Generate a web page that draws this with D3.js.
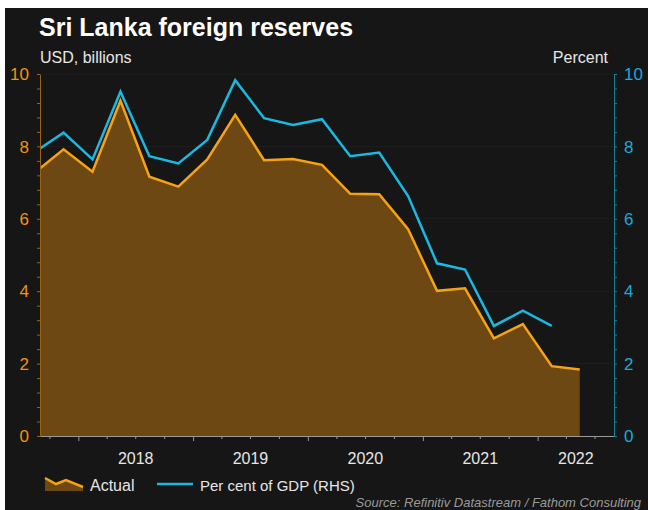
<!DOCTYPE html>
<html>
<head>
<meta charset="utf-8">
<script src="https://cdn.jsdelivr.net/npm/d3@7"></script>
<style>
  body { margin: 0; background: #fff; }
  text { font-family: "Liberation Sans", Arial, sans-serif; }
</style>
</head>
<body>
<script>
// quarterly observations (mid-quarter), first one falls just left of the plot
const dates = ["2017-08-15", "2017-11-15", "2018-02-15", "2018-05-15", "2018-08-15", "2018-11-15",
  "2019-02-15", "2019-05-15", "2019-08-15", "2019-11-15", "2020-02-15", "2020-05-15",
  "2020-08-15", "2020-11-15", "2021-02-15", "2021-05-15", "2021-08-15", "2021-11-15",
  "2022-02-15", "2022-05-15"];
const actual = [7.27, 7.92, 7.30, 9.26, 7.16, 6.89, 7.64, 8.87, 7.62, 7.65, 7.49, 6.69,
  6.68, 5.71, 4.01, 4.08, 2.70, 3.09, 1.93, 1.84];
const pctGdp = [7.84, 8.38, 7.64, 9.51, 7.73, 7.53, 8.18, 9.83, 8.78, 8.59, 8.75, 7.73,
  7.83, 6.63, 4.77, 4.60, 3.04, 3.46, 3.04, null];
const yTicks = [0, 2, 4, 6, 8, 10];
const years = [2018, 2019, 2020, 2021, 2022];

const w = 648, h = 510;
const margin = {top: 74, right: 34, bottom: 74, left: 40};
const orange = "#f5a315", fill = "#6d4813", blue = "#1bb8e0";

const parseDate = d3.timeParse("%Y-%m-%d");
const rows = dates.map((d, i) => ({date: parseDate(d), actual: actual[i], gdp: pctGdp[i]}));

const svg = d3.select("body").append("svg")
  .attr("width", w).attr("height", h);

svg.append("rect").attr("x", 5).attr("y", 8).attr("width", w - 5).attr("height", h - 8)
  .attr("fill", "#161616");

const x = d3.scaleTime()
  .domain([new Date(2017, 8, 1), new Date(2022, 8, 1)])
  .range([margin.left, w - margin.right]);
const yL = d3.scaleLinear().domain([0, 10]).range([h - margin.bottom, margin.top]);
const yR = d3.scaleLinear().domain([0, 10]).range([h - margin.bottom, margin.top]);

// faint grid
svg.append("g").selectAll("line").data(yTicks.slice(1)).enter().append("line")
  .attr("x1", margin.left).attr("x2", w - margin.right)
  .attr("y1", d => yL(d)).attr("y2", d => yL(d))
  .attr("stroke", "#ffffff").attr("stroke-opacity", 0.035);

svg.append("clipPath").attr("id", "plot")
  .append("rect")
  .attr("x", margin.left).attr("y", 0)
  .attr("width", w - margin.left - margin.right).attr("height", yL(0));

const plot = svg.append("g").attr("clip-path", "url(#plot)");

const area = d3.area().x(d => x(d.date)).y0(yL(0)).y1(d => yL(d.actual));
const lineA = d3.line().x(d => x(d.date)).y(d => yL(d.actual));
const lineG = d3.line().defined(d => d.gdp != null).x(d => x(d.date)).y(d => yR(d.gdp));

plot.append("path").datum(rows).attr("d", area).attr("fill", fill);
plot.append("path").datum(rows).attr("d", lineA)
  .attr("fill", "none").attr("stroke", orange).attr("stroke-width", 2.5);
plot.append("path").datum(rows).attr("d", lineG)
  .attr("fill", "none").attr("stroke", blue).attr("stroke-width", 2.5);

// x axis: quarterly ticks, longer at year start
const xAxis = d3.axisBottom(x).ticks(d3.timeMonth.every(3)).tickSizeInner(3).tickSizeOuter(0).tickFormat("");
const gx = svg.append("g").attr("transform", `translate(0,${yL(0)})`).call(xAxis);
gx.select(".domain").attr("stroke", "#9a9a9a").attr("stroke-width", 1.2);
gx.selectAll(".tick line").attr("stroke", "#9a9a9a")
  .attr("y2", d => d.getMonth() === 0 ? 5 : 3);

// year labels centred on the visible part of each year
const [d0, d1] = x.domain();
svg.append("g").selectAll("text").data(years).enter().append("text")
  .attr("x", yr => {
    const a = Math.max(+new Date(yr, 0, 1), +d0), b = Math.min(+new Date(yr + 1, 0, 1), +d1);
    return (x(new Date(a)) + x(new Date(b))) / 2;
  })
  .attr("y", 464)
  .attr("text-anchor", "middle")
  .attr("fill", "#e6e6e6").attr("font-size", 16)
  .text(d => d);

// left axis
const gl = svg.append("g").attr("transform", `translate(${margin.left},0)`)
  .call(d3.axisLeft(yL).tickValues(d3.range(0, 10.01, 0.4)).tickSizeInner(3).tickSizeOuter(0).tickFormat(""));
gl.select(".domain").attr("stroke", "#9a6512");
gl.selectAll(".tick line").attr("stroke", "#9a6512");
svg.append("g").selectAll("text").data(yTicks).enter().append("text")
  .attr("x", 29).attr("y", d => yL(d)).attr("dy", "0.36em")
  .attr("text-anchor", "end").attr("fill", "#ee9410").attr("font-size", 17)
  .text(d => d);

// right axis
const gr = svg.append("g").attr("transform", `translate(${w - margin.right},0)`)
  .call(d3.axisRight(yR).tickValues(d3.range(0, 10.01, 0.4)).tickSizeInner(3).tickSizeOuter(0).tickFormat(""));
gr.select(".domain").attr("stroke", "#16819e");
gr.selectAll(".tick line").attr("stroke", "#16819e");
svg.append("g").selectAll("text").data(yTicks).enter().append("text")
  .attr("x", 624).attr("y", d => yR(d)).attr("dy", "0.36em")
  .attr("text-anchor", "start").attr("fill", "#1aaade").attr("font-size", 17)
  .text(d => d);

// titles
svg.append("text").attr("x", 39).attr("y", 36)
  .attr("fill", "#ffffff").attr("font-size", 25).attr("font-weight", "bold")
  .text("Sri Lanka foreign reserves");
svg.append("text").attr("x", 40).attr("y", 63)
  .attr("fill", "#e6e6e6").attr("font-size", 16).text("USD, billions");
svg.append("text").attr("x", 608).attr("y", 63).attr("text-anchor", "end")
  .attr("fill", "#e6e6e6").attr("font-size", 16).text("Percent");

// legend
const lg = svg.append("g");
lg.append("path")
  .attr("d", "M45,478 L56,484 L66,480 L83,487 L83,491 L45,491 Z")
  .attr("fill", fill);
lg.append("path")
  .attr("d", "M45,478 L56,484 L66,480 L83,487")
  .attr("fill", "none").attr("stroke", orange).attr("stroke-width", 2.5);
lg.append("text").attr("x", 90).attr("y", 491)
  .attr("fill", "#e6e6e6").attr("font-size", 16).text("Actual");
lg.append("line").attr("x1", 157).attr("x2", 193).attr("y1", 484).attr("y2", 484)
  .attr("stroke", blue).attr("stroke-width", 2.5);
lg.append("text").attr("x", 200).attr("y", 491)
  .attr("fill", "#e6e6e6").attr("font-size", 15).text("Per cent of GDP (RHS)");

svg.append("text").attr("x", 641).attr("y", 507).attr("text-anchor", "end")
  .attr("fill", "#9a9a9a").attr("font-size", 13).attr("font-style", "italic")
  .text("Source: Refinitiv Datastream / Fathom Consulting");
</script>
</body>
</html>
